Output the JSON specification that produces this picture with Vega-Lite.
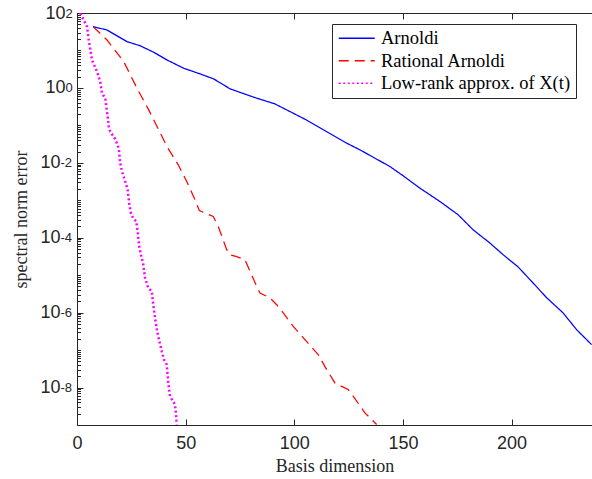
{
  "$schema": "https://vega.github.io/schema/vega-lite/v6.json",
  "width": 515,
  "height": 412,
  "autosize": {"type": "none"},
  "padding": {"left": 77, "top": 13, "right": 0, "bottom": 54},
  "background": "white",
  "config": {
    "view": {"stroke": "#262626", "strokeWidth": 1},
    "axis": {
      "domain": false, "grid": false,
      "labelFont": "Liberation Sans", "labelFontSize": 18, "labelColor": "#262626",
      "tickColor": "#262626", "tickWidth": 1,
      "titleFont": "Liberation Serif", "titleFontSize": 18, "titleFontWeight": "normal", "titleColor": "#262626",
      "labelFlush": false, "labelOverlap": false, "labelBound": false
    }
  },
  "data": {"values": [
    {"method": "Arnoldi", "dim": 7.4, "err": 43.2},
    {"method": "Arnoldi", "dim": 13.8, "err": 35.2},
    {"method": "Arnoldi", "dim": 23.0, "err": 17.2},
    {"method": "Arnoldi", "dim": 29.0, "err": 13.4},
    {"method": "Arnoldi", "dim": 35.3, "err": 8.95},
    {"method": "Arnoldi", "dim": 41.4, "err": 5.58},
    {"method": "Arnoldi", "dim": 49.1, "err": 3.35},
    {"method": "Arnoldi", "dim": 56.7, "err": 2.36},
    {"method": "Arnoldi", "dim": 62.9, "err": 1.74},
    {"method": "Arnoldi", "dim": 70.5, "err": 0.94},
    {"method": "Arnoldi", "dim": 79.6, "err": 0.612},
    {"method": "Arnoldi", "dim": 82.8, "err": 0.531},
    {"method": "Arnoldi", "dim": 91.1, "err": 0.374},
    {"method": "Arnoldi", "dim": 104.9, "err": 0.146},
    {"method": "Arnoldi", "dim": 124.1, "err": 0.0335},
    {"method": "Arnoldi", "dim": 130.2, "err": 0.0222},
    {"method": "Arnoldi", "dim": 144.0, "err": 0.00796},
    {"method": "Arnoldi", "dim": 150.1, "err": 0.0045},
    {"method": "Arnoldi", "dim": 157.8, "err": 0.00211},
    {"method": "Arnoldi", "dim": 167.0, "err": 9.29e-4},
    {"method": "Arnoldi", "dim": 175.4, "err": 4.10e-4},
    {"method": "Arnoldi", "dim": 182.3, "err": 1.63e-4},
    {"method": "Arnoldi", "dim": 190.0, "err": 7.23e-5},
    {"method": "Arnoldi", "dim": 196.1, "err": 3.52e-5},
    {"method": "Arnoldi", "dim": 203.0, "err": 1.66e-5},
    {"method": "Arnoldi", "dim": 209.9, "err": 6.19e-6},
    {"method": "Arnoldi", "dim": 216.1, "err": 2.51e-6},
    {"method": "Arnoldi", "dim": 223.7, "err": 9.82e-7},
    {"method": "Arnoldi", "dim": 229.9, "err": 3.52e-7},
    {"method": "Arnoldi", "dim": 236.8, "err": 1.40e-7},
    {"method": "Rational Arnoldi", "dim": 7.4, "err": 43.2},
    {"method": "Rational Arnoldi", "dim": 13.8, "err": 19.1},
    {"method": "Rational Arnoldi", "dim": 21.5, "err": 5.02},
    {"method": "Rational Arnoldi", "dim": 27.6, "err": 0.982},
    {"method": "Rational Arnoldi", "dim": 33.0, "err": 0.259},
    {"method": "Rational Arnoldi", "dim": 37.6, "err": 0.0759},
    {"method": "Rational Arnoldi", "dim": 41.4, "err": 0.0272},
    {"method": "Rational Arnoldi", "dim": 46.6, "err": 0.00885},
    {"method": "Rational Arnoldi", "dim": 50.5, "err": 0.00317},
    {"method": "Rational Arnoldi", "dim": 54.3, "err": 0.00103},
    {"method": "Rational Arnoldi", "dim": 56.3, "err": 5.35e-4},
    {"method": "Rational Arnoldi", "dim": 58.9, "err": 4.56e-4},
    {"method": "Rational Arnoldi", "dim": 62.7, "err": 3.70e-4},
    {"method": "Rational Arnoldi", "dim": 65.0, "err": 2.00e-4},
    {"method": "Rational Arnoldi", "dim": 68.9, "err": 4.79e-5},
    {"method": "Rational Arnoldi", "dim": 70.4, "err": 3.52e-5},
    {"method": "Rational Arnoldi", "dim": 73.1, "err": 3.17e-5},
    {"method": "Rational Arnoldi", "dim": 77.3, "err": 2.59e-5},
    {"method": "Rational Arnoldi", "dim": 82.7, "err": 5.02e-6},
    {"method": "Rational Arnoldi", "dim": 84.2, "err": 3.35e-6},
    {"method": "Rational Arnoldi", "dim": 88.8, "err": 2.47e-6},
    {"method": "Rational Arnoldi", "dim": 91.9, "err": 1.63e-6},
    {"method": "Rational Arnoldi", "dim": 94.9, "err": 9.82e-7},
    {"method": "Rational Arnoldi", "dim": 99.5, "err": 4.32e-7},
    {"method": "Rational Arnoldi", "dim": 104.9, "err": 1.91e-7},
    {"method": "Rational Arnoldi", "dim": 111.0, "err": 7.59e-8},
    {"method": "Rational Arnoldi", "dim": 114.9, "err": 3.02e-8},
    {"method": "Rational Arnoldi", "dim": 118.7, "err": 1.33e-8},
    {"method": "Rational Arnoldi", "dim": 121.0, "err": 1.13e-8},
    {"method": "Rational Arnoldi", "dim": 124.8, "err": 8.85e-9},
    {"method": "Rational Arnoldi", "dim": 127.1, "err": 5.86e-9},
    {"method": "Rational Arnoldi", "dim": 132.5, "err": 2.11e-9},
    {"method": "Rational Arnoldi", "dim": 137.9, "err": 1.03e-9},
    {"method": "Low-rank approx. of X(t)", "dim": 1.5, "err": 98.2},
    {"method": "Low-rank approx. of X(t)", "dim": 4.6, "err": 43.2},
    {"method": "Low-rank approx. of X(t)", "dim": 5.4, "err": 19.1},
    {"method": "Low-rank approx. of X(t)", "dim": 6.9, "err": 5.58},
    {"method": "Low-rank approx. of X(t)", "dim": 9.2, "err": 2.72},
    {"method": "Low-rank approx. of X(t)", "dim": 10.7, "err": 1.47},
    {"method": "Low-rank approx. of X(t)", "dim": 11.5, "err": 0.723},
    {"method": "Low-rank approx. of X(t)", "dim": 13.0, "err": 0.531},
    {"method": "Low-rank approx. of X(t)", "dim": 14.1, "err": 0.172},
    {"method": "Low-rank approx. of X(t)", "dim": 14.6, "err": 0.0929},
    {"method": "Low-rank approx. of X(t)", "dim": 15.3, "err": 0.0684},
    {"method": "Low-rank approx. of X(t)", "dim": 17.6, "err": 0.0429},
    {"method": "Low-rank approx. of X(t)", "dim": 19.2, "err": 0.0247},
    {"method": "Low-rank approx. of X(t)", "dim": 19.9, "err": 0.00982},
    {"method": "Low-rank approx. of X(t)", "dim": 20.7, "err": 0.00586},
    {"method": "Low-rank approx. of X(t)", "dim": 22.2, "err": 0.00317},
    {"method": "Low-rank approx. of X(t)", "dim": 23.3, "err": 0.00191},
    {"method": "Low-rank approx. of X(t)", "dim": 24.1, "err": 7.59e-4},
    {"method": "Low-rank approx. of X(t)", "dim": 24.8, "err": 4.56e-4},
    {"method": "Low-rank approx. of X(t)", "dim": 25.8, "err": 3.35e-4},
    {"method": "Low-rank approx. of X(t)", "dim": 27.3, "err": 2.72e-4},
    {"method": "Low-rank approx. of X(t)", "dim": 27.9, "err": 1.47e-4},
    {"method": "Low-rank approx. of X(t)", "dim": 28.5, "err": 6.50e-5},
    {"method": "Low-rank approx. of X(t)", "dim": 29.4, "err": 3.52e-5},
    {"method": "Low-rank approx. of X(t)", "dim": 30.4, "err": 2.11e-5},
    {"method": "Low-rank approx. of X(t)", "dim": 31.3, "err": 8.41e-6},
    {"method": "Low-rank approx. of X(t)", "dim": 32.8, "err": 4.56e-6},
    {"method": "Low-rank approx. of X(t)", "dim": 34.4, "err": 3.70e-6},
    {"method": "Low-rank approx. of X(t)", "dim": 35.1, "err": 1.63e-6},
    {"method": "Low-rank approx. of X(t)", "dim": 35.9, "err": 7.23e-7},
    {"method": "Low-rank approx. of X(t)", "dim": 36.9, "err": 3.17e-7},
    {"method": "Low-rank approx. of X(t)", "dim": 37.9, "err": 1.72e-7},
    {"method": "Low-rank approx. of X(t)", "dim": 39.0, "err": 9.29e-8},
    {"method": "Low-rank approx. of X(t)", "dim": 40.0, "err": 5.58e-8},
    {"method": "Low-rank approx. of X(t)", "dim": 41.3, "err": 4.10e-8},
    {"method": "Low-rank approx. of X(t)", "dim": 42.0, "err": 1.33e-8},
    {"method": "Low-rank approx. of X(t)", "dim": 42.8, "err": 5.86e-9},
    {"method": "Low-rank approx. of X(t)", "dim": 45.1, "err": 3.52e-9},
    {"method": "Low-rank approx. of X(t)", "dim": 45.5, "err": 2.11e-9},
    {"method": "Low-rank approx. of X(t)", "dim": 45.9, "err": 1.03e-9}
  ]},
  "layer": [
    {
      "mark": {"type": "line", "clip": true, "strokeCap": "butt"},
      "encoding": {
        "x": {"field": "dim", "type": "quantitative",
          "scale": {"domain": [0, 237], "nice": false, "zero": false},
          "axis": {"orient": "bottom", "values": [0, 50, 100, 150, 200], "ticks": false, "labelPadding": 9,
            "title": "Basis dimension", "titleFontSize": 18, "titleY": 46, "titleBaseline": "alphabetic"}},
        "y": {"field": "err", "type": "quantitative",
          "scale": {"type": "log", "domain": [1e-9, 100], "nice": false},
          "axis": {"orient": "left", "values": [1e-8, 1e-6, 1e-4, 1e-2, 1, 100], "ticks": false,
            "labelExpr": "'10'", "labelAlign": "right", "labelBaseline": "middle", "labelDy": 1.5,
            "labelPadding": {"condition": {"test": "datum.value >= 1", "value": 12}, "value": 17},
            "title": "spectral norm error", "titleFontSize": 18, "titleAngle": 270, "titleX": -51, "titleY": 206, "titleBaseline": "alphabetic", "titleAlign": "center", "titleLimit": 1000}},
        "color": {"field": "method", "type": "nominal",
          "scale": {"domain": ["Arnoldi", "Rational Arnoldi", "Low-rank approx. of X(t)"], "range": ["#0000ff", "#ff0000", "#ff00ff"]},
          "legend": {"title": null, "orient": "none", "legendX": 255, "legendY": 11, "symbolType": "M-2.4,0H2.4", "symbolSize": 225,
            "symbolStrokeWidth": 1.3, "symbolOffset": 10.5, "labelFont": "Liberation Serif", "labelFontSize": 18.5, "labelColor": "black", "labelOffset": 15,
            "padding": 5, "rowPadding": 3.5, "strokeColor": "#262626", "fillColor": "white", "labelLimit": 400}},
        "strokeDash": {"field": "method", "type": "nominal",
          "scale": {"domain": ["Arnoldi", "Rational Arnoldi", "Low-rank approx. of X(t)"], "range": [[1, 0], [10, 6], [2, 2.5]]},
          "legend": {"title": null, "orient": "none", "legendX": 255, "legendY": 11, "symbolType": "M-2.4,0H2.4", "symbolSize": 225,
            "symbolStrokeWidth": 1.3, "symbolOffset": 10.5, "labelFont": "Liberation Serif", "labelFontSize": 18.5, "labelColor": "black", "labelOffset": 15,
            "padding": 5, "rowPadding": 3.5, "strokeColor": "#262626", "fillColor": "white", "labelLimit": 400}},
        "strokeWidth": {"condition": {"test": "datum.method === 'Low-rank approx. of X(t)'", "value": 2.5}, "value": 1.25}
      }
    },
    {
      "mark": {"type": "point", "opacity": 0},
      "encoding": {
        "x": {"field": "dim", "type": "quantitative",
          "axis": {"orient": "top", "values": [0, 50, 100, 150, 200], "labels": false, "tickSize": -6, "title": null}},
        "y": {"field": "err", "type": "quantitative",
          "axis": {"orient": "left", "values": [1e-8, 1e-6, 1e-4, 1e-2, 1, 100], "ticks": false,
            "labelExpr": "'' + round(log(datum.value) / LN10)", "labelAlign": "left", "labelBaseline": "middle", "labelDy": -5.5,
            "labelFontSize": 13,
            "labelPadding": {"condition": {"test": "datum.value >= 1", "value": 12}, "value": 17}, "title": null}}
      }
    },
    {
      "mark": {"type": "point", "opacity": 0},
      "encoding": {
        "x": {"field": "dim", "type": "quantitative",
          "axis": {"orient": "bottom", "values": [0, 50, 100, 150, 200], "labels": false, "tickSize": -6, "title": null}},
        "y": {"field": "err", "type": "quantitative",
          "axis": {"orient": "left", "values": [1e-8, 1e-6, 1e-4, 1e-2, 1, 100], "labels": false, "tickSize": -6, "title": null}}
      }
    },
    {
      "mark": {"type": "point", "opacity": 0},
      "encoding": {
        "x": {"field": "dim", "type": "quantitative", "axis": null},
        "y": {"field": "err", "type": "quantitative",
          "axis": {"orient": "left", "labels": false, "tickSize": -3.5, "title": null,
            "values": [1e-9, 2e-9, 3e-9, 4e-9, 5e-9, 6e-9, 7e-9, 8e-9, 9e-9,
              1e-8, 2e-8, 3e-8, 4e-8, 5e-8, 6e-8, 7e-8, 8e-8, 9e-8,
              1e-7, 2e-7, 3e-7, 4e-7, 5e-7, 6e-7, 7e-7, 8e-7, 9e-7,
              1e-6, 2e-6, 3e-6, 4e-6, 5e-6, 6e-6, 7e-6, 8e-6, 9e-6,
              1e-5, 2e-5, 3e-5, 4e-5, 5e-5, 6e-5, 7e-5, 8e-5, 9e-5,
              1e-4, 2e-4, 3e-4, 4e-4, 5e-4, 6e-4, 7e-4, 8e-4, 9e-4,
              1e-3, 2e-3, 3e-3, 4e-3, 5e-3, 6e-3, 7e-3, 8e-3, 9e-3,
              1e-2, 2e-2, 3e-2, 4e-2, 5e-2, 6e-2, 7e-2, 8e-2, 9e-2,
              1e-1, 2e-1, 3e-1, 4e-1, 5e-1, 6e-1, 7e-1, 8e-1, 9e-1,
              1, 2, 3, 4, 5, 6, 7, 8, 9,
              10, 20, 30, 40, 50, 60, 70, 80, 90, 100]}}
      }
    }
  ],
  "resolve": {"axis": {"x": "independent", "y": "independent"}}
}
